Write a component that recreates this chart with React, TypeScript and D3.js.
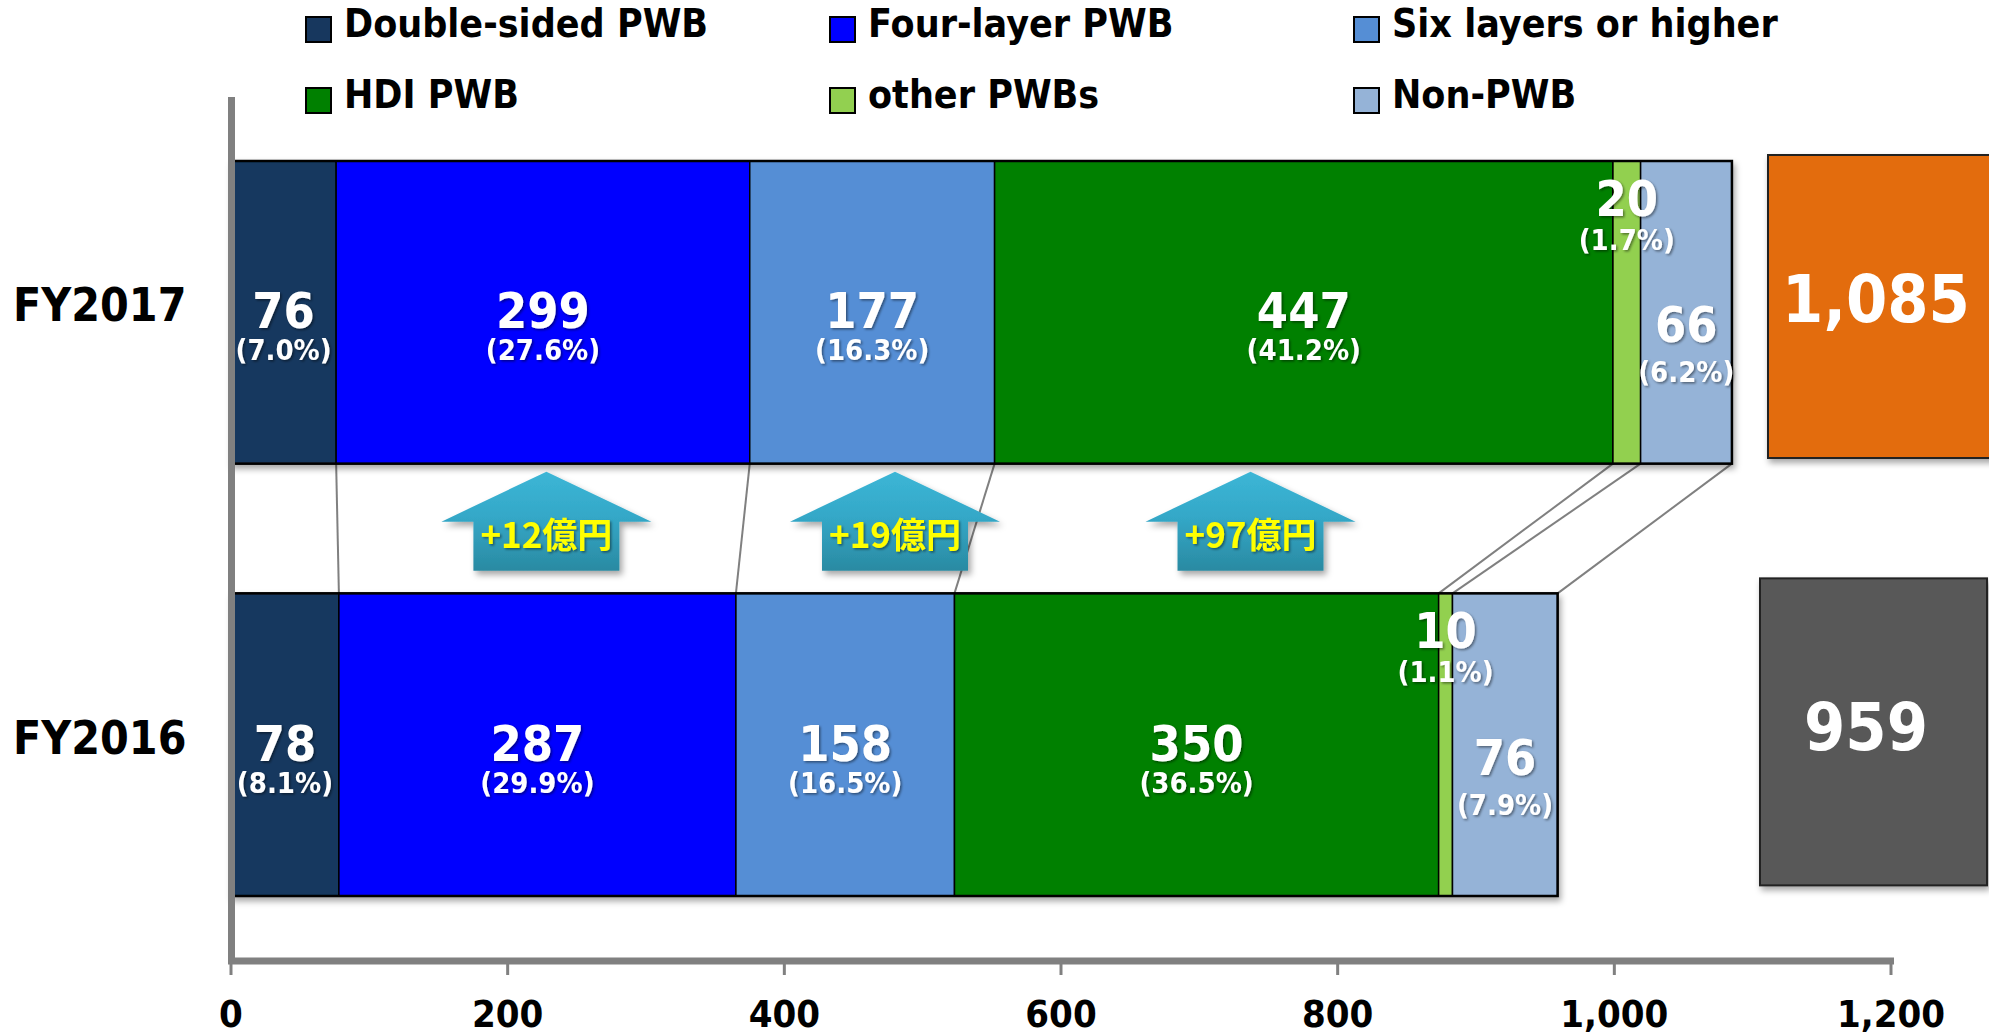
import React from "react";
import * as d3 from "d3";

const categories = ["FY2017", "FY2016"];
const seriesNames = [
  "Double-sided PWB",
  "Four-layer PWB",
  "Six layers or higher",
  "HDI PWB",
  "other PWBs",
  "Non-PWB",
];
const seriesColors = ["#17375E", "#0000FF", "#558ED5", "#008000", "#92D050", "#95B3D7"];
const labelPlacement = ["center", "center", "center", "center", "top", "low"];
const fy2017Values = [76, 299, 177, 447, 20, 66];
const fy2016Values = [78, 287, 158, 350, 10, 76];
const fy2017Shares = ["(7.0%)", "(27.6%)", "(16.3%)", "(41.2%)", "(1.7%)", "(6.2%)"];
const fy2016Shares = ["(8.1%)", "(29.9%)", "(16.5%)", "(36.5%)", "(1.1%)", "(7.9%)"];
const totalLabels = ["1,085", "959"];
const totalColors = ["#E36C09", "#595959"];
const xTicks = [0, 200, 400, 600, 800, 1000, 1200];
const increaseLabels = ["+12億円", "+19億円", "+97億円"];
const increaseAt = [228, 480, 737];

const W = 1989;
const H = 1036;
const FONT = "'DejaVu Sans', Verdana, sans-serif";
const CJK = "'Noto Sans CJK JP', sans-serif";

function SText({ x, y, size, fill, children, anchor = "middle", sx = 0.9, filter }: any) {
  return (
    <g transform={`translate(${x},${y}) scale(${sx},1)`} filter={filter}>
      <text
        x={0}
        y={0}
        textAnchor={anchor}
        fontFamily={FONT}
        fontWeight="bold"
        fontSize={size}
        fill={fill}
      >
        {children}
      </text>
    </g>
  );
}

export default function App() {
  const x = d3.scaleLinear().domain([0, 1200]).range([231, 1891]);
  const y = d3.scaleBand().domain(categories).range([161, 896]).paddingInner(0.3).paddingOuter(0);
  const bw = y.bandwidth();

  const rows = categories.map((c, i) => {
    const vals = i === 0 ? fy2017Values : fy2016Values;
    const r: any = { cat: c };
    seriesNames.forEach((s, j) => (r[s] = vals[j]));
    return r;
  });
  const shares = [fy2017Shares, fy2016Shares];
  const stacked = d3.stack().keys(seriesNames)(rows);

  const top17 = y("FY2017")! + bw;
  const top16 = y("FY2016")!;

  // arrow geometry
  const tipY = top17 + 8;
  const headY = tipY + 50;
  const botY = headY + 49;
  const headHalf = 105;
  const bodyHalf = 73;

  // total box layout (per category)
  const boxX = [1768, 1760];
  const boxW = [260, 227];
  const boxDY = [-6, -15];
  const boxH = [303, 307];
  const boxTextX = [1876, 1866];
  const boxTextDY = [10, 5];

  return (
    <svg
      width={W}
      height={H}
      style={{ position: "absolute", left: 0, top: 0, background: "#fff" }}
      xmlns="http://www.w3.org/2000/svg"
    >
      <defs>
        <filter id="barShadow" x="-5%" y="-10%" width="110%" height="130%">
          <feDropShadow dx="2" dy="4" stdDeviation="3" floodColor="#000" floodOpacity="0.35" />
        </filter>
        <filter id="txtShadow" x="-20%" y="-20%" width="140%" height="140%">
          <feDropShadow dx="1.5" dy="1.5" stdDeviation="1" floodColor="#000" floodOpacity="0.45" />
        </filter>
        <filter id="arrowShadow" x="-20%" y="-20%" width="140%" height="140%">
          <feDropShadow dx="3" dy="4" stdDeviation="3" floodColor="#000" floodOpacity="0.35" />
        </filter>
        <linearGradient id="arrowGrad" x1="0" y1="0" x2="0" y2="1">
          <stop offset="0" stopColor="#3CB6D6" />
          <stop offset="0.45" stopColor="#34A8C8" />
          <stop offset="1" stopColor="#2A8AA2" />
        </linearGradient>
      </defs>

      {/* Legend */}
      {seriesNames.map((s, i) => {
        const col = i % 3;
        const row = Math.floor(i / 3);
        const sx = [306, 830, 1354][col];
        const baseY = [37, 108][row];
        return (
          <g key={s}>
            <rect x={sx} y={baseY - 20} width={25} height={25} fill={seriesColors[i]} stroke="#000" strokeWidth={2} />
            <SText x={sx + 38} y={baseY} size={39} fill="#000" anchor="start">
              {s}
            </SText>
          </g>
        );
      })}

      {/* Connectors */}
      {stacked.map((layer, j) => (
        <line
          key={"c" + j}
          x1={x(layer[0][1])}
          y1={top17}
          x2={x(layer[1][1])}
          y2={top16}
          stroke="#808080"
          strokeWidth={2}
        />
      ))}

      {/* Bars */}
      {categories.map((c, i) => (
        <g key={c} filter="url(#barShadow)">
          {stacked.map((layer, j) => (
            <rect
              key={j}
              x={x(layer[i][0])}
              y={y(c)}
              width={x(layer[i][1]) - x(layer[i][0])}
              height={bw}
              fill={seriesColors[j]}
              stroke="#000"
              strokeWidth={1.5}
            />
          ))}
          <rect
            x={x(0)}
            y={y(c)}
            width={x(stacked[stacked.length - 1][i][1]) - x(0)}
            height={bw}
            fill="none"
            stroke="#000"
            strokeWidth={2.5}
          />
        </g>
      ))}

      {/* Segment labels */}
      {categories.map((c, i) =>
        stacked.map((layer, j) => {
          const cx = (x(layer[i][0]) + x(layer[i][1])) / 2;
          const top = y(c)!;
          const cy = top + bw / 2;
          let vy = cy + 16;
          let py = cy + 48;
          if (labelPlacement[j] === "top") {
            vy = top + 55;
            py = top + 89;
          } else if (labelPlacement[j] === "low") {
            vy = cy + 30;
            py = cy + 70;
          }
          return (
            <g key={c + j} filter="url(#txtShadow)">
              <SText x={cx} y={vy} size={50} fill="#fff">
                {String(layer[i][1] - layer[i][0])}
              </SText>
              <SText x={cx} y={py} size={29} fill="#fff">
                {shares[i][j]}
              </SText>
            </g>
          );
        })
      )}

      {/* Increase arrows */}
      {increaseLabels.map((t, k) => {
        const cx = x(increaseAt[k]);
        const d = `M${cx},${tipY} L${cx + headHalf},${headY} L${cx + bodyHalf},${headY} L${cx + bodyHalf},${botY} L${cx - bodyHalf},${botY} L${cx - bodyHalf},${headY} L${cx - headHalf},${headY} Z`;
        return (
          <g key={t}>
            <path d={d} fill="url(#arrowGrad)" filter="url(#arrowShadow)" />
            <text
              x={cx}
              y={headY + 26}
              textAnchor="middle"
              fontFamily={CJK}
              fontWeight="bold"
              fontSize={35}
              fill="#FFFF00"
              filter="url(#txtShadow)"
            >
              {t}
            </text>
          </g>
        );
      })}

      {/* Total boxes */}
      {categories.map((c, i) => {
        const top = y(c)! + boxDY[i];
        return (
          <g key={"t" + c}>
            <rect
              x={boxX[i]}
              y={top}
              width={boxW[i]}
              height={boxH[i]}
              fill={totalColors[i]}
              stroke="#222"
              strokeWidth={2}
              filter="url(#barShadow)"
            />
            <SText x={boxTextX[i]} y={y(c)! + bw / 2 + boxTextDY[i]} size={66} fill="#fff">
              {totalLabels[i]}
            </SText>
          </g>
        );
      })}

      {/* Category labels */}
      {categories.map((c) => (
        <SText key={"l" + c} x={13} y={y(c)! + bw / 2 + 9} size={46} fill="#000" anchor="start">
          {c}
        </SText>
      ))}

      {/* Axes */}
      <line x1={231.5} y1={97} x2={231.5} y2={961} stroke="#808080" strokeWidth={7} />
      <line x1={228} y1={961} x2={1894} y2={961} stroke="#808080" strokeWidth={7} />
      {xTicks.map((t) => (
        <g key={"tk" + t}>
          <line x1={x(t)} y1={961} x2={x(t)} y2={975} stroke="#808080" strokeWidth={3} />
          <SText x={x(t)} y={1027} size={38} fill="#000">
            {d3.format(",")(t)}
          </SText>
        </g>
      ))}
    </svg>
  );
}
